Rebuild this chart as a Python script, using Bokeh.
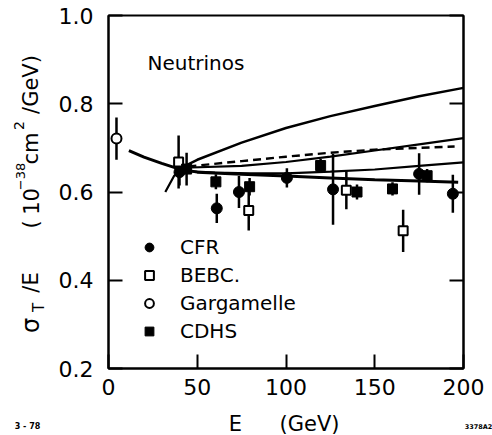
import math
from bokeh.plotting import figure
from bokeh.layouts import column, row
from bokeh.models import Range1d, LinearAxis, FixedTicker, Label, Legend
from bokeh.embed import file_html
from bokeh.resources import INLINE

FONT = "DejaVu Sans"

# ---- data ----
x_ticks = [0, 50, 100, 150, 200]
y_ticks = [0.2, 0.4, 0.6, 0.8, 1.0]
y_tick_labels = ["0.2", "0.4", "0.6", "0.8", "1.0"]

cfr_E = [40, 61, 73.5, 100.5, 126.5, 175, 194]
cfr_s = [0.645, 0.563, 0.600, 0.632, 0.606, 0.641, 0.596]
cfr_err = [0.030, 0.033, 0.036, 0.022, 0.080, 0.047, 0.043]

cdhs_E = [44, 60.5, 79.5, 119.5, 140, 160, 179.5]
cdhs_s = [0.652, 0.623, 0.612, 0.660, 0.600, 0.607, 0.637]
cdhs_err = [0.037, 0.017, 0.020, 0.015, 0.017, 0.015, 0.015]

bebc_E = [39.5, 79, 134, 166]
bebc_s = [0.668, 0.558, 0.604, 0.512]
bebc_err = [0.060, 0.045, 0.043, 0.048]

garg_E = [4.5]
garg_s = [0.721]
garg_err = [0.048]

# theory curves
thick_E = [11.5, 20, 30, 40, 50, 75, 100, 125, 150, 175, 197]
thick_s = [0.694, 0.679, 0.665, 0.652, 0.645, 0.640, 0.636, 0.632, 0.628, 0.625, 0.622]

top_E = [42, 50, 75, 100, 125, 150, 175, 200]
top_s = [0.657, 0.673, 0.712, 0.745, 0.772, 0.795, 0.817, 0.836]

mid_E = [42, 75, 100, 125, 150, 175, 200]
mid_s = [0.655, 0.659, 0.668, 0.680, 0.694, 0.708, 0.722]

dash_E = [45, 75, 100, 125, 150, 175, 195]
dash_s = [0.658, 0.670, 0.680, 0.689, 0.696, 0.700, 0.703]

low_E = [32, 37, 42, 60, 80, 100, 125, 150, 175, 200]
low_s = [0.600, 0.637, 0.648, 0.644, 0.642, 0.642, 0.646, 0.651, 0.659, 0.667]

# ---- main figure ----
p = figure(width=442, height=405, output_backend="svg", toolbar_location=None,
           x_range=Range1d(0, 200), y_range=Range1d(0.2, 1.0),
           min_border_left=58, min_border_right=29, min_border_top=15,
           min_border_bottom=37)
p.background_fill_color = "white"
p.border_fill_color = "white"
p.grid.visible = False
p.outline_line_color = "black"
p.outline_line_width = 2

for ax in (p.xaxis[0], p.yaxis[0]):
    ax.axis_line_width = 2
    ax.major_tick_line_width = 2
    ax.major_tick_in = 14
    ax.major_tick_out = 0
    ax.minor_tick_line_color = None
    ax.major_label_text_font = FONT
    ax.major_label_text_font_size = "22px"
    ax.major_label_text_color = "black"

p.xaxis.ticker = FixedTicker(ticks=x_ticks)
p.yaxis.ticker = FixedTicker(ticks=y_ticks)
p.yaxis.major_label_overrides = {t: s for t, s in zip(y_ticks, y_tick_labels)}
p.xaxis.major_label_standoff = 10
p.yaxis.major_label_standoff = 15

right = LinearAxis(ticker=FixedTicker(ticks=y_ticks))
right.major_tick_in = 14
right.major_tick_out = 0
right.major_tick_line_width = 2
right.axis_line_width = 2
right.minor_tick_line_color = None
right.major_label_text_font_size = "0px"
right.major_label_text_color = None
p.add_layout(right, "right")

# curves
p.line(thick_E, thick_s, line_color="black", line_width=3)
p.line(top_E, top_s, line_color="black", line_width=2.5)
p.line(mid_E, mid_s, line_color="black", line_width=2.2)
p.line(dash_E, dash_s, line_color="black", line_width=2.4, line_dash="8 5")
p.line(low_E, low_s, line_color="black", line_width=2.2)

# error bars
def errbars(xs, ys, es):
    p.segment(x0=xs, y0=[y - e for y, e in zip(ys, es)],
              x1=xs, y1=[y + e for y, e in zip(ys, es)],
              line_color="black", line_width=2.5)

errbars(cfr_E, cfr_s, cfr_err)
errbars(cdhs_E, cdhs_s, cdhs_err)
errbars(bebc_E, bebc_s, bebc_err)
errbars(garg_E, garg_s, garg_err)

r_cfr = p.scatter(cfr_E, cfr_s, marker="circle", size=11, fill_color="black",
                  line_color="black")
r_bebc = p.scatter(bebc_E, bebc_s, marker="square", size=9, fill_color="white",
                   line_color="black", line_width=2)
r_garg = p.scatter(garg_E, garg_s, marker="circle", size=10, fill_color="white",
                   line_color="black", line_width=2)
r_cdhs = p.scatter(cdhs_E, cdhs_s, marker="square", size=10, fill_color="black",
                   line_color="black")

legend = Legend(items=[("CFR", [r_cfr]), ("BEBC.", [r_bebc]),
                       ("Gargamelle", [r_garg]), ("CDHS", [r_cdhs])],
                location=(30, 25), padding=0, margin=0, spacing=4,
                glyph_width=22, glyph_height=22, label_height=22,
                label_standoff=20, border_line_color=None,
                background_fill_alpha=0, label_text_font=FONT,
                label_text_color="black",
                label_text_font_size="20px", label_text_baseline="middle")
p.add_layout(legend, "center")

p.add_layout(Label(x=22, y=0.892, text="Neutrinos", text_align="left",
                   text_baseline="middle", text_font=FONT,
                   text_font_size="20px", text_color="black"))


def bare(width, height):
    f = figure(width=width, height=height, output_backend="svg",
               toolbar_location=None, x_axis_type=None, y_axis_type=None,
               x_range=Range1d(0, width), y_range=Range1d(0, height),
               min_border=0, min_border_left=0, min_border_right=0,
               min_border_top=0, min_border_bottom=0)
    f.grid.visible = False
    f.outline_line_color = None
    f.background_fill_color = "white"
    f.border_fill_color = "white"
    return f


def lab(f, x, y, t, size, angle=0.0, bold=False):
    f.add_layout(Label(x=x, y=y, x_units="screen", y_units="screen", text=t,
                       angle=angle, text_align="center", text_baseline="middle",
                       text_font=FONT, text_font_size=size, text_color="black",
                       text_font_style="bold" if bold else "normal"))


# ---- y-axis title strip (rotated pieces) ----
# the strip's frame is aligned with the main frame (page y 15..368),
# so screen y is measured up from page y = 368
strip = bare(50, 405)
B = 368
A = math.pi / 2
lab(strip, 30, B - 325, "σ", "24px", angle=A)
lab(strip, 38, B - 307, "T", "15px", angle=A)
lab(strip, 30, B - 282, "/E", "21px", angle=A)
lab(strip, 30, B - 224, "(", "21px", angle=A)
lab(strip, 30, B - 201, "10", "21px", angle=A)
lab(strip, 20, B - 176, "−38", "13px", angle=A)
lab(strip, 30, B - 148, "cm", "21px", angle=A)
lab(strip, 18, B - 125, "2", "14px", angle=A)
lab(strip, 30, B - 84, "/GeV)", "21px", angle=A)

# ---- footer: x-axis title and corner marks ----
foot = bare(492, 30)
lab(foot, 235, 12, "E", "21px")
lab(foot, 309, 12, "(GeV)", "21px")
lab(foot, 27, 9, "3 - 78", "8px", bold=True)
lab(foot, 478, 9, "3378A2", "6.5px", bold=True)

layout = column(row(strip, p, spacing=0), foot, spacing=0)

open("out.html", "w").write(file_html(layout, INLINE))
